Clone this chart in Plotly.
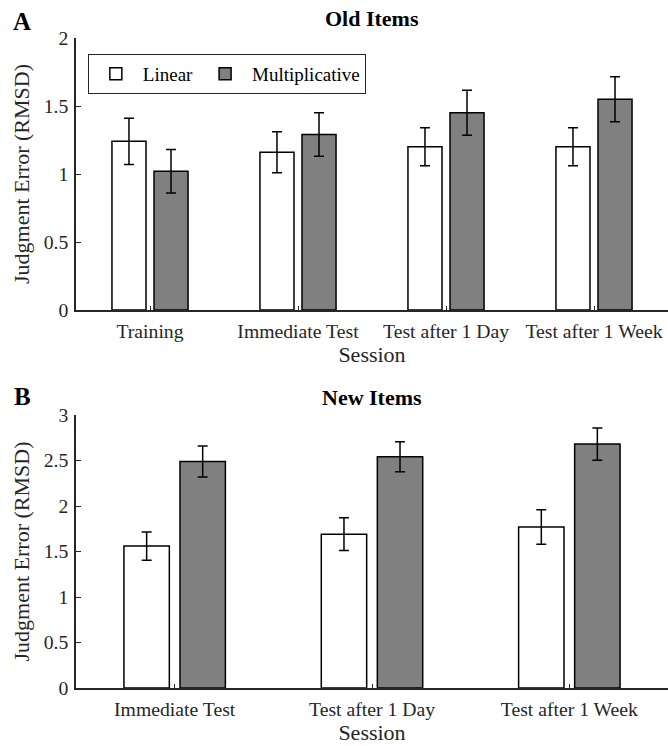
import plotly.graph_objects as go

# ---------------- data ----------------
old_sessions = ["Training", "Immediate Test", "Test after 1 Day", "Test after 1 Week"]
old_linear = [1.24, 1.16, 1.20, 1.20]
old_linear_err = [0.17, 0.15, 0.14, 0.14]
old_mult = [1.02, 1.29, 1.45, 1.55]
old_mult_err = [0.16, 0.16, 0.165, 0.165]

new_sessions = ["Immediate Test", "Test after 1 Day", "Test after 1 Week"]
new_linear = [1.56, 1.69, 1.77]
new_linear_err = [0.155, 0.18, 0.19]
new_mult = [2.49, 2.54, 2.68]
new_mult_err = [0.17, 0.165, 0.177]

old_yticks = [0, 0.5, 1, 1.5, 2]
old_yticktext = ["0", "0.5", "1", "1.5", "2"]
new_yticks = [0, 0.5, 1, 1.5, 2, 2.5, 3]
new_yticktext = ["0", "0.5", "1", "1.5", "2", "2.5", "3"]

series_names = ["Linear", "Multiplicative"]
series_fill = ["white", "#808080"]

# ---------------- style ----------------
FONT = "Liberation Serif"
AXC = "#262626"
TICK_FS = 19.7
LABEL_FS = 22
BAR_W = 0.23
OFFSETS = [-0.257, 0.027]

fig = go.Figure()

def add_panel(sessions, vals_list, errs_list, xa, ya, showlegend):
    xs = list(range(1, len(sessions) + 1))
    for i, (vals, errs) in enumerate(zip(vals_list, errs_list)):
        fig.add_trace(go.Bar(
            x=xs, y=vals, name=series_names[i],
            width=BAR_W, offset=OFFSETS[i],
            marker=dict(color=series_fill[i], line=dict(color="black", width=1.5)),
            error_y=dict(type="data", array=errs, visible=True,
                         color="black", thickness=1.5, width=5),
            xaxis=xa, yaxis=ya, showlegend=showlegend,
        ))

add_panel(old_sessions, [old_linear, old_mult], [old_linear_err, old_mult_err], "x", "y", True)
add_panel(new_sessions, [new_linear, new_mult], [new_linear_err, new_mult_err], "x2", "y2", False)

H = 746.0
def py(pix):
    return 1 - pix / H

common_x = dict(
    showline=True, linecolor=AXC, linewidth=1.5, ticks="inside", ticklen=4,
    tickcolor=AXC, tickwidth=1, showgrid=False, zeroline=False,
    tickfont=dict(family=FONT, size=TICK_FS, color=AXC), automargin=False,
    ticklabelstandoff=3,
)
common_y = dict(
    showline=True, linecolor=AXC, linewidth=1.5, ticks="inside", ticklen=5,
    tickcolor=AXC, tickwidth=1, showgrid=False, zeroline=False,
    tickfont=dict(family=FONT, size=TICK_FS, color=AXC), automargin=False,
    ticklabelstandoff=2,
)

fig.update_layout(
    width=668, height=746,
    margin=dict(l=76, r=0, t=0, b=0),
    plot_bgcolor="white", paper_bgcolor="white",
    barmode="overlay",
    font=dict(family=FONT, color=AXC),
    xaxis=dict(domain=[0, 1], range=[0.5, 4.5], anchor="y",
               tickvals=[1, 2, 3, 4], ticktext=old_sessions,
               title=dict(text="Session", font=dict(family=FONT, size=LABEL_FS, color=AXC), standoff=1),
               **common_x),
    yaxis=dict(domain=[py(310), py(38)], range=[0, 2], anchor="x",
               tickvals=old_yticks, ticktext=old_yticktext,
               title=dict(text="Judgment Error (RMSD)", font=dict(family=FONT, size=LABEL_FS, color=AXC), standoff=8),
               **common_y),
    xaxis2=dict(domain=[0, 1], range=[0.5, 3.5], anchor="y2",
                tickvals=[1, 2, 3], ticktext=new_sessions,
                title=dict(text="Session", font=dict(family=FONT, size=LABEL_FS, color=AXC), standoff=1),
                **common_x),
    yaxis2=dict(domain=[py(688), py(415)], range=[0, 3], anchor="x2",
                tickvals=new_yticks, ticktext=new_yticktext,
                title=dict(text="Judgment Error (RMSD)", font=dict(family=FONT, size=LABEL_FS, color=AXC), standoff=8),
                **common_y),
    legend=dict(
        x=0.02, y=py(54), xanchor="left", yanchor="top",
        orientation="h", bordercolor="#262626", borderwidth=1, bgcolor="white",
        font=dict(family=FONT, size=19, color="black"),
        itemwidth=44, tracegroupgap=0,
    ),
    annotations=[
        dict(text="<b>Old Items</b>", x=0.5, y=py(18), xref="paper", yref="paper",
             showarrow=False, xanchor="center", yanchor="middle",
             font=dict(family=FONT, size=LABEL_FS, color="black")),
        dict(text="<b>New Items</b>", x=0.5, y=py(397), xref="paper", yref="paper",
             showarrow=False, xanchor="center", yanchor="middle",
             font=dict(family=FONT, size=LABEL_FS, color="black")),
        dict(text="<b>A</b>", x=(22 - 76) / 592, y=py(21), xref="paper", yref="paper",
             showarrow=False, xanchor="center", yanchor="middle",
             font=dict(family=FONT, size=25, color="black")),
        dict(text="<b>B</b>", x=(22 - 76) / 592, y=py(396), xref="paper", yref="paper",
             showarrow=False, xanchor="center", yanchor="middle",
             font=dict(family=FONT, size=25, color="black")),
    ],
)

fig.write_html("out.html", config={"displayModeBar": False},
               post_script="document.body.style.margin='0px';")
